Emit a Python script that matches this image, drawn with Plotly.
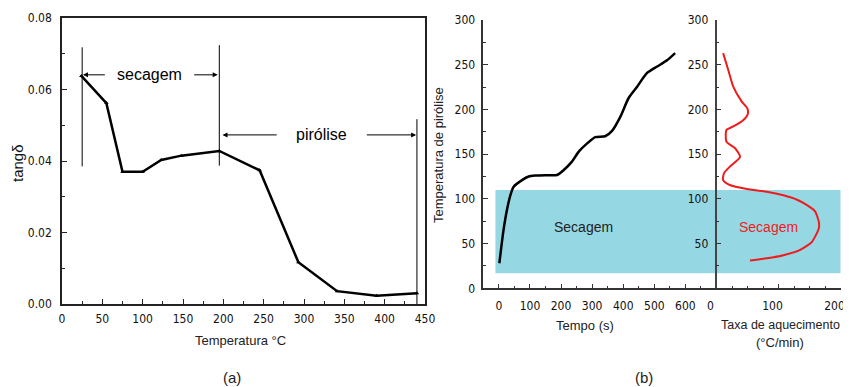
import plotly.graph_objects as go

# ---------------- Data ----------------
# (a) tan delta vs temperature
temp_a = [24, 55, 75, 100, 123, 148, 195, 245, 293, 341, 390, 440]
tand_a = [0.0638, 0.0562, 0.0370, 0.0370, 0.0403, 0.0415, 0.0428, 0.0374, 0.0117, 0.0036, 0.0023, 0.0030]

phase_lines_x = [25, 195, 440]
phase_lines_y0 = [0.0385, 0.0387, 0.0]
phase_lines_y1 = [0.0718, 0.0724, 0.0517]

# (b) time vs pyrolysis temperature
tempo_b = [1.6, 15, 26, 37, 47.6, 74.6, 96, 117, 150, 187, 208, 235, 257, 284, 310, 342, 364, 391, 417, 444, 476, 509, 541, 567]
temp_b = [28, 65, 87.6, 104, 113.6, 121, 125, 126, 126.5, 126.7, 132, 141.6, 152.8, 162, 169, 170, 176, 192, 212.5, 225, 240.5, 248, 255, 263]

# (b) heating rate vs pyrolysis temperature
taxa_b = [54, 81, 108, 135, 154, 165, 165, 159, 146, 130, 108, 81, 49, 21.5, 10.7, 12, 21.5, 38, 30, 16, 16, 27, 43, 50, 50, 40.5, 27, 19, 10.7]
temp_taxa = [31, 33.5, 37, 43, 52, 67, 74.5, 86, 93, 99, 104, 108, 111, 115.5, 121, 128.6, 136, 147, 156.6, 164, 177, 181, 188, 194, 201, 209, 225.5, 244, 263]

secagem_band = [16.8, 110]   # temperature band of drying zone

# ---------------- Geometry (page body has an 8px margin) ----------------
OFF = 8
W, H = 851 - OFF, 387 - OFF


def px(x):
    return (x - OFF) / W


def py(y):
    return 1 - (y - OFF) / H


# ---------------- Figure ----------------
fig = go.Figure()

fig.add_trace(go.Scatter(x=temp_a, y=tand_a, mode="lines+markers",
                         line=dict(color="black", width=2.5),
                         marker=dict(symbol="triangle-up", size=4, color="black"),
                         xaxis="x", yaxis="y", showlegend=False))

fig.add_trace(go.Scatter(x=tempo_b, y=temp_b, mode="lines",
                         line=dict(color="black", width=2.5, shape="spline", smoothing=0.6),
                         xaxis="x2", yaxis="y2", showlegend=False))

fig.add_trace(go.Scatter(x=taxa_b, y=temp_taxa, mode="lines",
                         line=dict(color="#ee1c1c", width=2, shape="spline", smoothing=0.6),
                         xaxis="x3", yaxis="y3", showlegend=False))

tickfont = dict(family="Liberation Sans Narrow, DejaVu Sans Condensed, Arial, sans-serif", size=12, color="#111")
axcol = "#333"

shapes = []
for xv, y0, y1 in zip(phase_lines_x, phase_lines_y0, phase_lines_y1):
    shapes.append(dict(type="line", xref="x", yref="y", x0=xv, x1=xv, y0=y0, y1=y1,
                       line=dict(color="black", width=1)))
# drying band
band_col = "rgba(150,215,228,1)"
shapes.append(dict(type="rect", xref="x2", yref="y2", x0=-11, x1=700,
                   y0=secagem_band[0], y1=secagem_band[1], fillcolor=band_col,
                   line=dict(width=0), layer="below"))
shapes.append(dict(type="rect", xref="x3", yref="y3", x0=0, x1=202,
                   y0=secagem_band[0], y1=secagem_band[1], fillcolor=band_col,
                   line=dict(width=0), layer="below"))

annotations = []
arrow = dict(showarrow=True, arrowhead=2, arrowsize=1, arrowwidth=1, arrowcolor="black",
             axref="x", ayref="y", xref="x", yref="y", text="")
# secagem arrows
annotations.append(dict(arrow, x=26, y=0.0641, ax=55, ay=0.0641))
annotations.append(dict(arrow, x=193, y=0.0641, ax=162, ay=0.0641))
annotations.append(dict(xref="x", yref="y", x=109, y=0.0641, text="secagem", showarrow=False,
                        xanchor="center", yanchor="middle",
                        font=dict(family="Arial, Liberation Sans, sans-serif", size=16, color="black")))
# pirólise arrows
annotations.append(dict(arrow, x=199, y=0.0473, ax=268, ay=0.0473))
annotations.append(dict(arrow, x=439, y=0.0473, ax=376, ay=0.0473))
annotations.append(dict(xref="x", yref="y", x=322, y=0.0473, text="pirólise", showarrow=False,
                        xanchor="center", yanchor="middle",
                        font=dict(family="Arial, Liberation Sans, sans-serif", size=16, color="black")))

lab = dict(family="Arial, Liberation Sans, sans-serif", size=13, color="#222")


def txt(xp, yp, text, font, angle=0):
    return dict(xref="paper", yref="paper", x=px(xp), y=py(yp), text=text,
                textangle=angle, showarrow=False, xanchor="center", yanchor="middle", font=font)


annotations += [
    txt(17, 163, "tangδ", dict(family="Arial, Liberation Sans, sans-serif", size=15, color="#111"), -90),
    txt(240, 340, "Temperatura °C", lab),
    txt(232, 377, "(a)", dict(family="Arial, Liberation Sans, sans-serif", size=15, color="#222")),
    txt(644, 377, "(b)", dict(family="Arial, Liberation Sans, sans-serif", size=15, color="#222")),
    txt(438, 155, "Temperatura de pirólise", lab, -90),
    txt(585, 325, "Tempo (s)", lab),
    txt(780, 325, "Taxa de aquecimento",
        dict(family="Arial, Liberation Sans, sans-serif", size=12.5, color="#222")),
    txt(780, 342, "(°C/min)", lab),
    txt(583, 227, "Secagem", dict(family="Arial, Liberation Sans, sans-serif", size=14, color="#222")),
    txt(768, 227, "Secagem", dict(family="Arial, Liberation Sans, sans-serif", size=14, color="#ee1c1c")),
]

common = dict(showgrid=False, zeroline=False, automargin=False, tickfont=tickfont,
              ticks="inside", ticklen=5, showline=True, linewidth=1.5)

fig.update_layout(
    width=W, height=H, margin=dict(l=0, r=0, t=0, b=0, autoexpand=False),
    paper_bgcolor="white", plot_bgcolor="rgba(0,0,0,0)",
    shapes=shapes, annotations=annotations,
    xaxis=dict(common, domain=[px(62), px(425)], range=[0, 450], dtick=50, tick0=0,
               linecolor="#222", mirror=True, tickcolor="#222",
               minor=dict(ticks="inside", dtick=25, ticklen=3, tickcolor="#222"),
               ticklabelstandoff=3, anchor="y"),
    yaxis=dict(common, domain=[py(304), py(18)], range=[0, 0.08], dtick=0.02, tickformat=".2f",
               linecolor="#222", mirror=True, tickcolor="#222",
               minor=dict(ticks="inside", dtick=0.01, ticklen=3, tickcolor="#222"),
               ticklabelstandoff=6, anchor="x"),
    xaxis2=dict(common, domain=[px(483.3), px(716.5)], range=[-50, 700],
                tickvals=[0, 100, 200, 300, 400, 500, 600],
                linecolor=axcol, tickcolor=axcol,
                minor=dict(ticks="inside", dtick=50, tick0=0, ticklen=3, tickcolor=axcol),
                ticklabelstandoff=6, anchor="y2"),
    yaxis2=dict(common, domain=[py(288.3), py(20)], range=[0, 300], dtick=50,
                linecolor=axcol, tickcolor=axcol,
                minor=dict(ticks="inside", dtick=25, ticklen=3, tickcolor=axcol),
                ticklabelstandoff=4, anchor="x2"),
    xaxis3=dict(common, domain=[px(716.5), px(840.5)], range=[0, 200],
                tickvals=[0, 100, 200],
                linecolor=axcol, tickcolor=axcol,
                minor=dict(ticks="inside", dtick=25, ticklen=3, tickcolor=axcol),
                ticklabelstandoff=6, ticklabelshift=-6, ticklabeloverflow="allow",
                anchor="y3"),
    yaxis3=dict(common, domain=[py(288.3), py(20)], range=[0, 300],
                tickvals=[50, 100, 150, 200, 250, 300],
                linecolor="#444", tickcolor=axcol,
                minor=dict(ticks="inside", dtick=25, ticklen=3, tickcolor=axcol),
                ticklabelstandoff=4, anchor="x3"),
)

fig.write_html("out.html")
